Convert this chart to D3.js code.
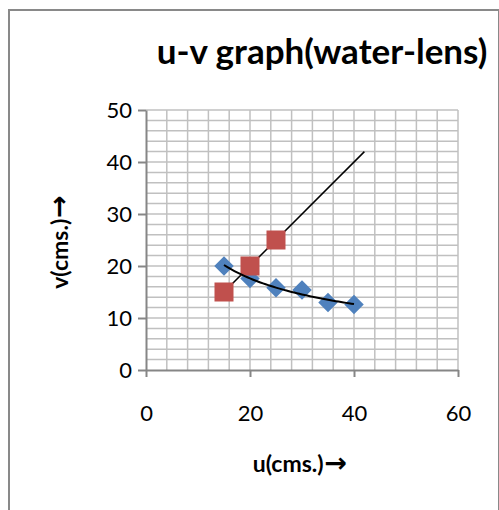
<!DOCTYPE html>
<html>
<head>
<meta charset="utf-8">
<script src="https://cdn.jsdelivr.net/npm/d3@7"></script>
<style>
  html, body { margin: 0; padding: 0; background: #fff; }
  #chart { width: 499px; height: 510px; }
  text { font-family: Lato, "Open Sans", sans-serif; fill: #000; }
</style>
</head>
<body>
<div id="chart"></div>
<script>
// u-v graph for a water lens, Excel-style scatter with trendlines

// object distance u (cms) and image distance v (cms), blue series
const uBlue = [15, 20, 25, 30, 35, 40];
const vBlue = [20, 17.6, 15.8, 15.4, 13, 12.6];

// red series
const uRed = [15, 20, 25];
const vRed = [15, 20, 25];

// linear trendline of red series is forecast forward to this u
const redForecastTo = 42;

const xTicks = [0, 20, 40, 60];
const yTicks = [0, 10, 20, 30, 40, 50];

const W = 499, H = 510;
const M = {t: 110, r: 41, b: 140, l: 146};

const svg = d3.select('#chart').append('svg')
  .attr('width', W)
  .attr('height', H);

// chart border (right edge partly cut off, bottom out of frame)
svg.append('rect')
  .attr('x', 9).attr('y', 10)
  .attr('width', 490).attr('height', 520)
  .attr('fill', 'none')
  .attr('stroke', '#898989')
  .attr('stroke-width', 2);

const x = d3.scaleLinear().domain([0, 60]).range([M.l, W - M.r]);
const y = d3.scaleLinear().domain([0, 50]).range([H - M.b, M.t]);

// gridlines: every 4 on x, every 2 on y
const grid = svg.append('g')
  .attr('stroke', '#c0c0c0')
  .attr('stroke-width', 1.5);

grid.selectAll('.gx')
  .data(d3.range(4, 60.1, 4))
  .enter().append('line')
  .attr('x1', d => x(d)).attr('x2', d => x(d))
  .attr('y1', y(0)).attr('y2', y(50));

grid.selectAll('.gy')
  .data(d3.range(2, 50.1, 2))
  .enter().append('line')
  .attr('x1', x(0)).attr('x2', x(60))
  .attr('y1', d => y(d)).attr('y2', d => y(d));

// axes
const yAxis = svg.append('g')
  .attr('transform', `translate(${x(0)},0)`)
  .call(d3.axisLeft(y).tickValues(yTicks).tickSize(8).tickPadding(6).tickSizeOuter(0));

const xAxis = svg.append('g')
  .attr('transform', `translate(0,${y(0)})`)
  .call(d3.axisBottom(x).tickValues(xTicks).tickSize(7).tickPadding(28).tickSizeOuter(0));

[xAxis, yAxis].forEach(ax => {
  ax.select('.domain').attr('stroke', '#868686').attr('stroke-width', 2);
  ax.selectAll('.tick line').attr('stroke', '#868686').attr('stroke-width', 2);
  ax.selectAll('.tick text')
    .attr('font-family', 'Lato, sans-serif')
    .attr('font-size', 22)
    .attr('fill', '#000');
});

// trendlines
const line = d3.line().x(d => x(d[0])).y(d => y(d[1]));

// linear fit of red series
const mR = d3.mean(uRed), vR = d3.mean(vRed);
const slope = d3.sum(uRed, (u, i) => (u - mR) * (vRed[i] - vR)) / d3.sum(uRed, u => (u - mR) * (u - mR));
const icpt = vR - slope * mR;
svg.append('path')
  .datum([uRed[0], redForecastTo].map(u => [u, icpt + slope * u]))
  .attr('d', line)
  .attr('fill', 'none')
  .attr('stroke', '#000')
  .attr('stroke-width', 1.5);

// power fit of blue series (log-log regression)
const lu = uBlue.map(Math.log), lv = vBlue.map(Math.log);
const mu = d3.mean(lu), mv = d3.mean(lv);
const b = d3.sum(lu, (u, i) => (u - mu) * (lv[i] - mv)) / d3.sum(lu, u => (u - mu) * (u - mu));
const a = Math.exp(mv - b * mu);
const powPts = d3.range(uBlue[0], uBlue[uBlue.length - 1] + 0.01, 0.5).map(u => [u, a * Math.pow(u, b)]);

// markers
const diamond = d3.symbol().type(d3.symbolSquare).size(190);
svg.append('g').selectAll('path')
  .data(uBlue.map((u, i) => [u, vBlue[i]]))
  .enter().append('path')
  .attr('d', diamond)
  .attr('transform', d => `translate(${x(d[0])},${y(d[1])}) rotate(45)`)
  .attr('fill', '#4f81bd');

svg.append('g').selectAll('rect')
  .data(uRed.map((u, i) => [u, vRed[i]]))
  .enter().append('rect')
  .attr('x', d => x(d[0]) - 9.5)
  .attr('y', d => y(d[1]) - 9.5)
  .attr('width', 19).attr('height', 19)
  .attr('fill', '#c0504d');

svg.append('path')
  .datum(powPts)
  .attr('d', line)
  .attr('fill', 'none')
  .attr('stroke', '#000')
  .attr('stroke-width', 2);

// titles
svg.append('text')
  .attr('x', 322).attr('y', 64)
  .attr('text-anchor', 'middle')
  .attr('font-weight', 700)
  .attr('font-size', 35)
  .text('u-v graph(water-lens)');

function axisTitle(t) {
  t.attr('text-anchor', 'middle')
    .attr('font-weight', 700)
    .attr('font-size', 23);
  t.append('tspan').text(t.datum());
  t.append('tspan')
    .attr('font-family', '"DejaVu Sans", sans-serif')
    .attr('font-size', 27)
    .attr('dx', 1)
    .text('\u2192');
}

svg.append('text')
  .datum('u(cms.)')
  .attr('x', 300).attr('y', 472)
  .call(axisTitle);

svg.append('text')
  .datum('v(cms.)')
  .attr('transform', `translate(68,242) rotate(-90)`)
  .call(axisTitle);
</script>
</body>
</html>
